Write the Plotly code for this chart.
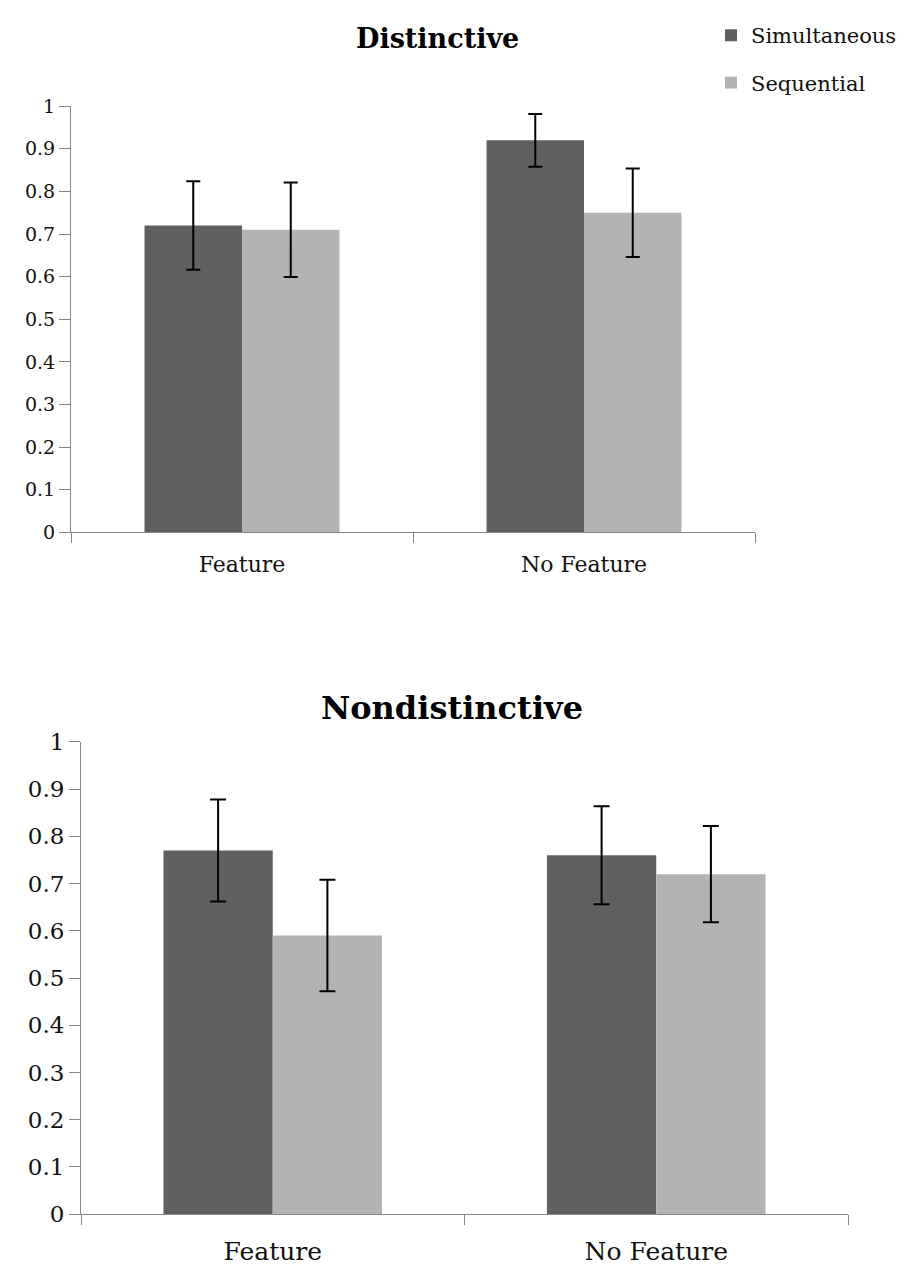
import plotly.graph_objects as go

# The page body has an 8px default margin, so the figure is sized to fit the window
OFF = 8
W, H = 910 - OFF, 1279 - OFF

categories = ["Feature", "No Feature"]
series_names = ["Simultaneous", "Sequential"]

distinctive_sim = [0.72, 0.92]
distinctive_sim_err = [0.104, 0.062]
distinctive_seq = [0.71, 0.75]
distinctive_seq_err = [0.111, 0.104]

nondistinctive_sim = [0.77, 0.76]
nondistinctive_sim_err = [0.108, 0.104]
nondistinctive_seq = [0.59, 0.72]
nondistinctive_seq_err = [0.118, 0.102]

y_ticks = [0, 0.1, 0.2, 0.3, 0.4, 0.5, 0.6, 0.7, 0.8, 0.9, 1]

DARK = "#606060"
LIGHT = "#b3b3b3"
AXIS = "#868686"
FONT = "DejaVu Serif"

def px_x(p):
    return (p - OFF) / W

def px_y(p):
    return 1 - (p - OFF) / H

fig = go.Figure()

err_style = dict(type="data", color="black", thickness=2)

fig.add_trace(go.Bar(x=categories, y=distinctive_sim, name=series_names[0],
                     marker=dict(color=DARK, line=dict(width=0)),
                     error_y=dict(array=distinctive_sim_err, width=7, **err_style),
                     xaxis="x", yaxis="y", legendgroup="a"))
fig.add_trace(go.Bar(x=categories, y=distinctive_seq, name=series_names[1],
                     marker=dict(color=LIGHT, line=dict(width=0)),
                     error_y=dict(array=distinctive_seq_err, width=7, **err_style),
                     xaxis="x", yaxis="y", legendgroup="b"))
fig.add_trace(go.Bar(x=categories, y=nondistinctive_sim, name=series_names[0],
                     marker=dict(color=DARK, line=dict(width=0)),
                     error_y=dict(array=nondistinctive_sim_err, width=8, **err_style),
                     xaxis="x2", yaxis="y2", showlegend=False))
fig.add_trace(go.Bar(x=categories, y=nondistinctive_seq, name=series_names[1],
                     marker=dict(color=LIGHT, line=dict(width=0)),
                     error_y=dict(array=nondistinctive_seq_err, width=8, **err_style),
                     xaxis="x2", yaxis="y2", showlegend=False))

xcommon = dict(type="category", showline=True, linecolor=AXIS, linewidth=1,
               ticks="outside", ticklen=10, tickcolor=AXIS, tickson="boundaries",
               showgrid=False, zeroline=False)
ycommon = dict(range=[0, 1], tickvals=y_ticks, showline=True, linecolor=AXIS,
               linewidth=1, ticks="outside", ticklen=11, tickcolor=AXIS,
               showgrid=False, zeroline=False)

fig.update_layout(
    width=W, height=H,
    margin=dict(l=0, r=0, t=0, b=0),
    paper_bgcolor="white", plot_bgcolor="white",
    barmode="group", bargap=0.43, bargroupgap=0,
    font=dict(family=FONT, color="#111111"),
    xaxis=dict(domain=[px_x(71), px_x(755)], anchor="y", ticklabelstandoff=12,
               tickfont=dict(size=22, family=FONT, color="#111111"), **xcommon),
    yaxis=dict(domain=[px_y(530), px_y(95)], anchor="x",
               tickfont=dict(size=19, family=FONT, color="#111111"), **ycommon),
    xaxis2=dict(domain=[px_x(81), px_x(848)], anchor="y2", ticklabelstandoff=15,
                tickfont=dict(size=25, family=FONT, color="#111111"), **xcommon),
    yaxis2=dict(domain=[px_y(1226), px_y(744)], anchor="x2",
                tickfont=dict(size=23, family=FONT, color="#111111"), **ycommon),
    showlegend=True,
    legend=dict(x=px_x(711), y=px_y(2), xanchor="left", yanchor="top",
                font=dict(size=21, family=FONT, color="#111111"),
                traceorder="grouped", tracegroupgap=17, itemwidth=30,
                bgcolor="rgba(0,0,0,0)"),
    annotations=[
        dict(text="<b>Distinctive</b>", x=px_x(437), y=px_y(26), xref="paper", yref="paper",
             xanchor="center", yanchor="middle", showarrow=False,
             font=dict(size=27, family=FONT, color="black")),
        dict(text="<b>Nondistinctive</b>", x=px_x(452), y=px_y(709), xref="paper", yref="paper",
             xanchor="center", yanchor="middle", showarrow=False,
             font=dict(size=32, family=FONT, color="black")),
    ],
)

fig.write_html("out.html")
